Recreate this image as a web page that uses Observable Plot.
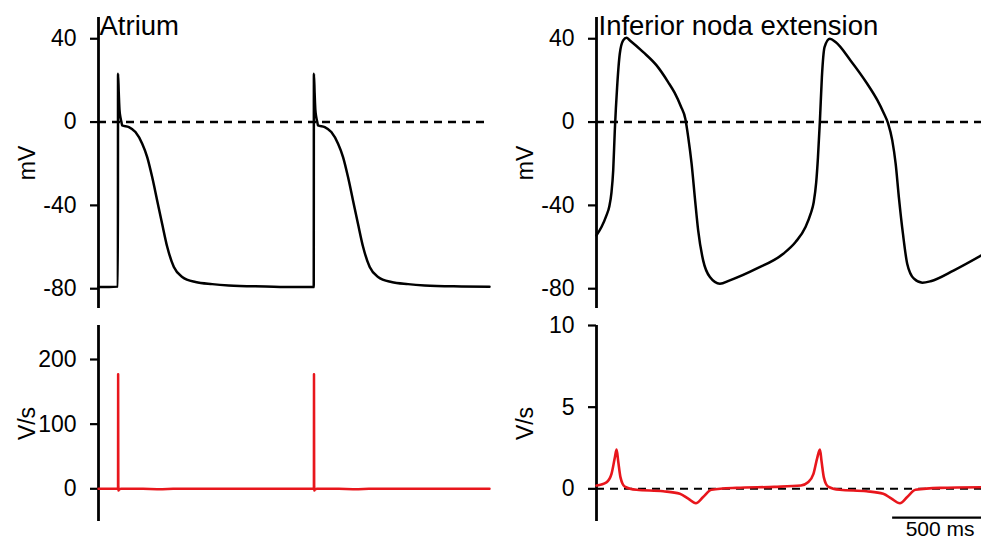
<!DOCTYPE html>
<html><head><meta charset="utf-8">
<script src="https://cdn.jsdelivr.net/npm/d3@7"></script>
<script src="https://cdn.jsdelivr.net/npm/@observablehq/plot@0.6"></script>
<style>
html,body{margin:0;padding:0;background:#fff;}
#wrap{position:relative;width:981px;height:539px;overflow:hidden;background:#fff;}
#wrap > div{position:absolute;}
</style></head>
<body>
<div id="wrap"><div id="tl"></div><div id="tr"></div><div id="bl"></div><div id="br"></div></div>
<script>
// ---- Titles and labels ----
const panelTitles = ["Atrium", "Inferior noda extension"];
const voltageLabel = "mV";
const rateLabel = "V/s";
const scaleBarLabel = "500 ms";
const scaleBarMs = 500;

// ---- Tick values ----
const voltageTicks = [40, 0, -40, -80];
const atriumRateTicks = [0, 100, 200];
const nodalRateTicks = [0, 5, 10];

// ---- Atrium membrane potential (ms, mV) ----
const atriumTimeMs = [0, 60, 109, 110, 114, 118, 124, 129, 133, 171, 208, 246, 274, 302, 330, 358, 387, 424, 471, 546, 640, 733, 940, 1100, 1211,
  1212, 1216, 1220, 1226, 1231, 1235, 1273, 1310, 1348, 1376, 1404, 1432, 1460, 1489, 1526, 1573, 1648, 1742, 1835, 2042, 2200];
const atriumMv = [-79.2, -79.2, -79, 23.2, 14, 6, 2, 0, -1.6, -2.4, -4.8, -10.4, -16.8, -26.4, -37.6, -48.8, -60, -69.6, -74.4, -76.8, -77.8, -78.4, -78.9, -79.2, -79.2,
  23.2, 14, 6, 2, 0, -1.6, -2.4, -4.8, -10.4, -16.8, -26.4, -37.6, -48.8, -60, -69.6, -74.4, -76.8, -77.8, -78.4, -78.9, -79.1];

// ---- Atrium dV/dt (ms, V/s) ----
const atriumRateTimeMs = [0, 109, 110, 110.5, 111.5, 113, 116, 125, 250, 330, 360, 420, 500, 1000, 1211, 1212, 1212.5, 1213.5, 1215, 1218, 1227, 1352, 1432, 1462, 1522, 1602, 2200];
const atriumRate = [0, 0, 3, 177, 5, -2.5, -1, 0, 0, -0.8, -0.8, 0, 0, 0, 0, 3, 177, 5, -2.5, -1, 0, 0, -0.8, -0.8, 0, 0, 0];

// ---- Inferior nodal extension membrane potential (ms, mV) ----
const nodalTimeMs = [0, 28, 56, 72, 84, 94, 103, 116, 131, 150, 169, 188, 263, 338, 403, 440, 475, 500, 516, 535, 553, 572, 600, 638, 694, 750, 900, 1051, 1120,
  1176, 1205, 1222, 1236, 1246, 1257, 1268, 1283, 1313, 1345, 1429, 1523, 1580, 1615, 1640, 1664, 1683, 1701, 1724, 1748, 1786, 1833, 1880, 2011, 2166];
const nodalMv = [-54.4, -50.4, -44.8, -40.5, -34, -23.2, -4, 16.8, 32.8, 39.2, 40.5, 39.2, 33.6, 27.2, 19.2, 14, 7.5, 1.5, -7.2, -20, -36, -52, -66.4, -74.4, -77.6, -76, -70.4, -63.2, -57.6,
  -50.4, -44, -38.5, -29, -16.8, 0.8, 21.6, 36, 40, 38.4, 29.6, 18.4, 10.5, 4.5, -0.5, -8.8, -20, -36, -53.6, -68, -75.2, -77.1, -76.4, -71.2, -64];

// ---- Inferior nodal extension dV/dt (ms, V/s) ----
const nodalRateTimeMs = [0, 56, 84, 103, 113, 122, 135, 159, 225, 375, 469, 516, 559, 600, 647, 788, 1000, 1150,
  1190, 1220, 1242, 1257, 1266, 1279, 1303, 1369, 1519, 1613, 1660, 1707, 1748, 1795, 1932, 2166];
const nodalRate = [0.2, 0.4, 0.9, 1.9, 2.4, 1.7, 0.7, 0.14, -0.06, -0.15, -0.3, -0.6, -0.88, -0.5, -0.06, 0.06, 0.12, 0.2,
  0.4, 0.9, 1.9, 2.4, 1.7, 0.7, 0.14, -0.06, -0.15, -0.3, -0.6, -0.88, -0.5, -0.06, 0.06, 0.1];

const zip = (ts, vs) => ts.map((t, i) => ({t, v: vs[i]}));
const FONT = "Liberation Sans, Arial, Helvetica, sans-serif";
const RED = "#e8161c";

function panel(id, opts) {
  const el = document.getElementById(id);
  el.style.left = opts.left + "px";
  el.style.top = opts.top + "px";
  const marks = [
    Plot.ruleX([opts.xDomain[0]], {stroke: "black", strokeWidth: 2.8}),
    Plot.axisY({ticks: opts.yTicks, tickSize: 8, tickPadding: 14, tickFormat: d => `${d}`,
      fontSize: 23, strokeWidth: 2.2, label: opts.yLabel, labelAnchor: "center", labelArrow: "none", labelOffset: 80}),
    ...opts.marks
  ];
  const svg = Plot.plot({
    width: opts.width, height: opts.height,
    marginLeft: opts.mL, marginRight: opts.mR, marginTop: opts.mT, marginBottom: opts.mB,
    x: {domain: opts.xDomain, axis: null},
    y: {domain: opts.yDomain, axis: null},
    style: {fontFamily: FONT, color: "black", background: "transparent", overflow: "visible"},
    marks
  });
  el.appendChild(svg);
}

const leftX = [0, 2200];
const rightX = [0, 2166];
const dash = {stroke: "black", strokeWidth: 2.6, strokeDasharray: "8,6"};

panel("tl", {left: 0, top: 0, width: 490, height: 316, mL: 98, mR: 1, mT: 17, mB: 8,
  xDomain: leftX, yDomain: [-89.5, 50.2], yTicks: voltageTicks, yLabel: voltageLabel,
  marks: [
    Plot.ruleY([0], dash),
    Plot.line(zip(atriumTimeMs, atriumMv), {x: "t", y: "v", stroke: "black", strokeWidth: 2.5, curve: "monotone-x"}),
    Plot.text([panelTitles[0]], {frameAnchor: "top-left", text: d => d, lineAnchor: "top", textAnchor: "start", dx: 1, dy: -2, fontSize: 27.5, fill: "black"})
  ]});

panel("tr", {left: 490, top: 0, width: 491, height: 316, mL: 106, mR: 0, mT: 17, mB: 8,
  xDomain: rightX, yDomain: [-89.5, 50.2], yTicks: voltageTicks, yLabel: voltageLabel,
  marks: [
    Plot.ruleY([0], dash),
    Plot.line(zip(nodalTimeMs, nodalMv), {x: "t", y: "v", stroke: "black", strokeWidth: 2.5, curve: "monotone-x"}),
    Plot.text([panelTitles[1]], {frameAnchor: "top-left", text: d => d, lineAnchor: "top", textAnchor: "start", dx: 2, dy: -2, fontSize: 27.5, fill: "black"})
  ]});

panel("bl", {left: 0, top: 316, width: 490, height: 223, mL: 98, mR: 1, mT: 9, mB: 18,
  xDomain: leftX, yDomain: [-50.6, 252.6], yTicks: atriumRateTicks, yLabel: rateLabel,
  marks: [
    Plot.ruleY([0], {stroke: "black", strokeWidth: 1.6, strokeDasharray: "8,6"}),
    Plot.line(zip(atriumRateTimeMs, atriumRate), {x: "t", y: "v", stroke: RED, strokeWidth: 2.5})
  ]});

const barEnd = rightX[1], barStart = rightX[1] - scaleBarMs, barY = -1.76;
panel("br", {left: 490, top: 316, width: 491, height: 223, mL: 106, mR: 0, mT: 9, mB: 18,
  xDomain: rightX, yDomain: [-2, 10], yTicks: nodalRateTicks, yLabel: rateLabel,
  marks: [
    Plot.ruleY([0], {stroke: "black", strokeWidth: 2, strokeDasharray: "8,6"}),
    Plot.line(zip(nodalRateTimeMs, nodalRate), {x: "t", y: "v", stroke: RED, strokeWidth: 2.6, curve: "monotone-x"}),
    Plot.ruleY([{x1: barStart, x2: barEnd, y: barY}], {x1: "x1", x2: "x2", y: "y", stroke: "black", strokeWidth: 2.4}),
    Plot.text([{x: (barStart + barEnd) / 2, y: barY, label: scaleBarLabel}], {x: "x", y: "y", text: "label", lineAnchor: "top", dy: 3.5, dx: 3, fontSize: 21, fill: "black"})
  ]});
</script>
</body></html>
